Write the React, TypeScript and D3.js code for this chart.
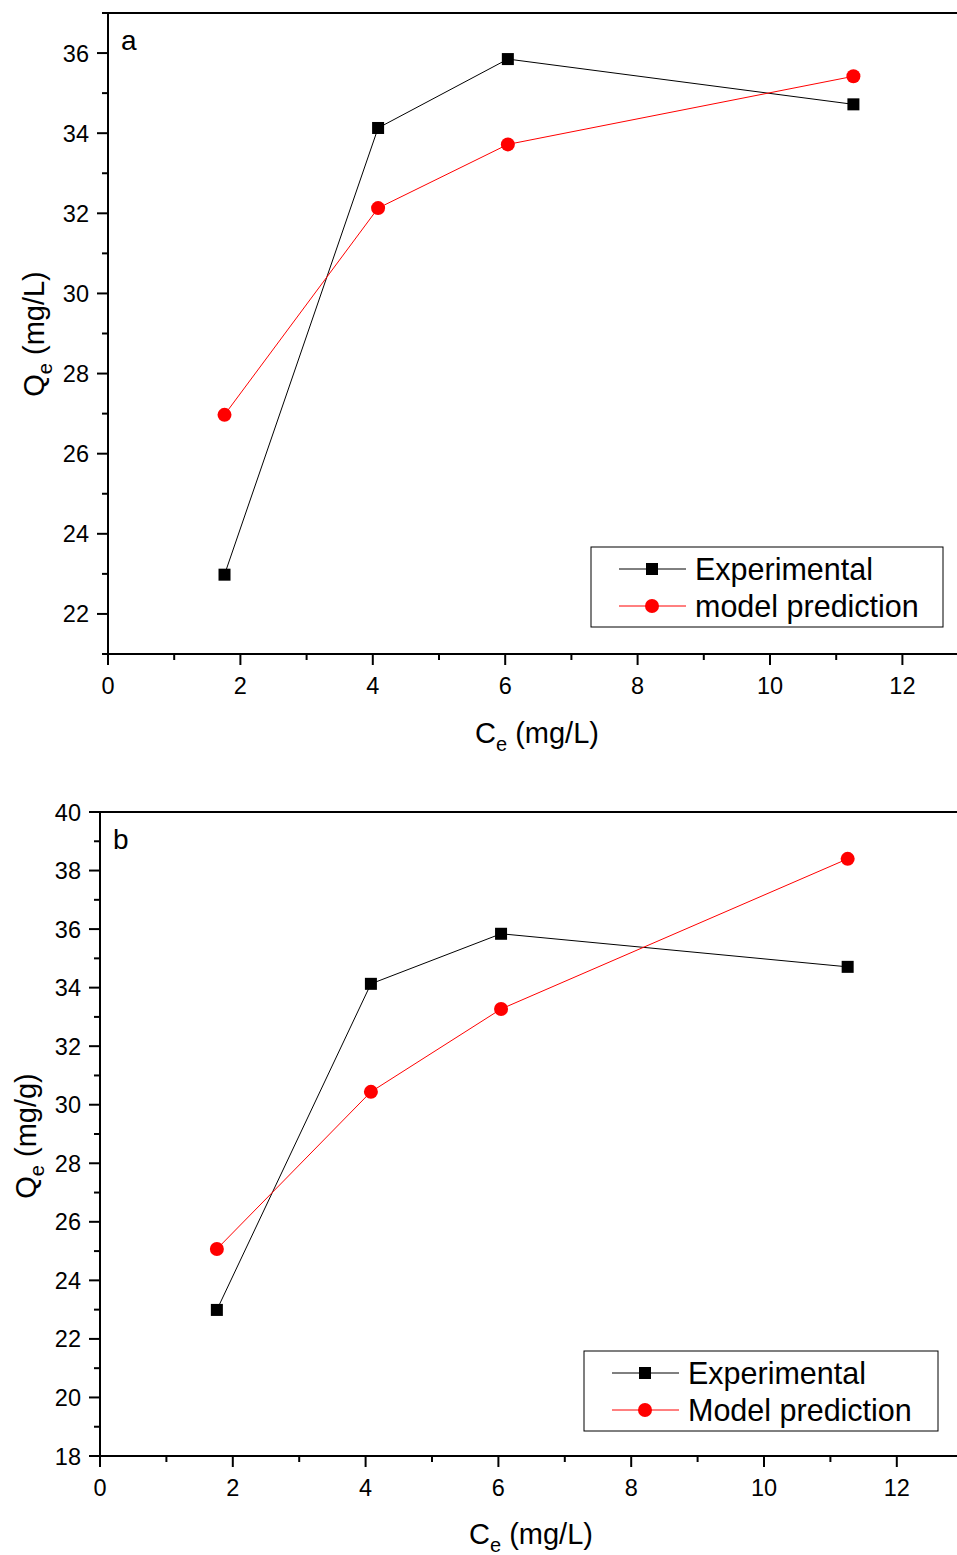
import React, { useEffect, useRef } from "react";
import * as d3 from "d3";

const ceValues = [1.76, 4.08, 6.04, 11.26];
const expA = [22.98, 34.13, 35.85, 34.72];
const modelA = [26.97, 32.13, 33.72, 35.42];
const expB = [22.99, 34.13, 35.84, 34.71];
const modelB = [25.07, 30.44, 33.27, 38.4];
const xTicks = [0, 2, 4, 6, 8, 10, 12];
const yTicksA = [22, 24, 26, 28, 30, 32, 34, 36];
const yTicksB = [18, 20, 22, 24, 26, 28, 30, 32, 34, 36, 38, 40];
const legendA = ["Experimental", "model prediction"];
const legendB = ["Experimental", "Model prediction"];

const FONT = "'Liberation Sans', Arial, Helvetica, sans-serif";

type PanelCfg = {
  left: number; top: number; bottom: number; right: number;
  xMax: number; yMin: number; yMax: number; yTicks: number[];
  exp: number[]; model: number[]; legend: string[];
  legendBox: [number, number, number, number];
  letter: string; yUnit: string; yTitleX: number; yTitleY: number;
  xTitleX: number; xTitleY: number;
};

function drawPanel(svg: d3.Selection<SVGSVGElement, unknown, null, undefined>, c: PanelCfg) {
  const g = svg.append("g");
  const x = d3.scaleLinear().domain([0, c.xMax]).range([c.left, c.right]);
  const y = d3.scaleLinear().domain([c.yMin, c.yMax]).range([c.bottom, c.top]);

  const xMinor = d3.range(1, Math.floor(c.xMax) + 1, 2);
  const yMinorAll = d3.range(Math.ceil(c.yMin), c.yMax + 0.001, 1).filter((v) => !c.yTicks.includes(v));

  g.selectAll(".xmaj").data(xTicks).enter().append("line")
    .attr("x1", (d) => x(d)).attr("x2", (d) => x(d))
    .attr("y1", c.bottom).attr("y2", c.bottom + 11)
    .attr("stroke", "#000").attr("stroke-width", 2);
  g.selectAll(".xmin").data(xMinor).enter().append("line")
    .attr("x1", (d) => x(d)).attr("x2", (d) => x(d))
    .attr("y1", c.bottom).attr("y2", c.bottom + 6)
    .attr("stroke", "#000").attr("stroke-width", 2);
  g.selectAll(".ymaj").data(c.yTicks).enter().append("line")
    .attr("x1", c.left - 11).attr("x2", c.left)
    .attr("y1", (d) => y(d)).attr("y2", (d) => y(d))
    .attr("stroke", "#000").attr("stroke-width", 2);
  g.selectAll(".ymin").data(yMinorAll).enter().append("line")
    .attr("x1", c.left - 6).attr("x2", c.left)
    .attr("y1", (d) => y(d)).attr("y2", (d) => y(d))
    .attr("stroke", "#000").attr("stroke-width", 2);

  g.append("line").attr("x1", c.left).attr("x2", c.left).attr("y1", c.top - 1).attr("y2", c.bottom + 1)
    .attr("stroke", "#000").attr("stroke-width", 2);
  g.append("line").attr("x1", c.left - 1).attr("x2", 960).attr("y1", c.bottom).attr("y2", c.bottom)
    .attr("stroke", "#000").attr("stroke-width", 2);
  g.append("line").attr("x1", c.left - 1).attr("x2", 960).attr("y1", c.top).attr("y2", c.top)
    .attr("stroke", "#000").attr("stroke-width", 2);

  g.selectAll(".xl").data(xTicks).enter().append("text")
    .attr("x", (d) => x(d)).attr("y", c.bottom + 40)
    .attr("text-anchor", "middle").attr("font-family", FONT).attr("font-size", 23.5)
    .text((d) => String(d));
  g.selectAll(".yl").data(c.yTicks).enter().append("text")
    .attr("x", c.left - 19).attr("y", (d) => y(d) + 8.5)
    .attr("text-anchor", "end").attr("font-family", FONT).attr("font-size", 23.5)
    .text((d) => String(d));

  const xt = g.append("text").attr("x", c.xTitleX).attr("y", c.xTitleY)
    .attr("text-anchor", "middle").attr("font-family", FONT).attr("font-size", 29);
  xt.append("tspan").text("C");
  xt.append("tspan").attr("font-size", 20).attr("dy", 8).text("e");
  xt.append("tspan").attr("dy", -8).text(" (mg/L)");

  const yt = g.append("text").attr("transform", `translate(${c.yTitleX},${c.yTitleY}) rotate(-90)`)
    .attr("text-anchor", "middle").attr("font-family", FONT).attr("font-size", 29);
  yt.append("tspan").text("Q");
  yt.append("tspan").attr("font-size", 20).attr("dy", 8).text("e");
  yt.append("tspan").attr("dy", -8).text(" " + c.yUnit);

  g.append("text").attr("x", c.left + 13).attr("y", c.top + 37)
    .attr("font-family", FONT).attr("font-size", 28).text(c.letter);

  const line = d3.line<number>().x((_, i) => x(ceValues[i])).y((d) => y(d));
  g.append("path").datum(c.exp).attr("d", line).attr("fill", "none").attr("stroke", "#000").attr("stroke-width", 1);
  g.append("path").datum(c.model).attr("d", line).attr("fill", "none").attr("stroke", "#ff0000").attr("stroke-width", 1);

  g.selectAll(".sq").data(c.exp).enter().append("rect")
    .attr("x", (_, i) => x(ceValues[i]) - 6).attr("y", (d) => y(d) - 6)
    .attr("width", 12).attr("height", 12).attr("fill", "#000");
  g.selectAll(".ci").data(c.model).enter().append("circle")
    .attr("cx", (_, i) => x(ceValues[i])).attr("cy", (d) => y(d)).attr("r", 7)
    .attr("fill", "#ff0000");

  const [lx, ly, lw, lh] = c.legendBox;
  g.append("rect").attr("x", lx).attr("y", ly).attr("width", lw).attr("height", lh)
    .attr("fill", "#fff").attr("stroke", "#000").attr("stroke-width", 1);
  [0, 1].forEach((r) => {
    const ry = ly + 22 + r * 37;
    const col = r === 0 ? "#000" : "#ff0000";
    g.append("line").attr("x1", lx + 28).attr("x2", lx + 95).attr("y1", ry).attr("y2", ry)
      .attr("stroke", col).attr("stroke-width", 1);
    if (r === 0) {
      g.append("rect").attr("x", lx + 55).attr("y", ry - 6).attr("width", 12).attr("height", 12).attr("fill", "#000");
    } else {
      g.append("circle").attr("cx", lx + 61).attr("cy", ry).attr("r", 7).attr("fill", "#ff0000");
    }
    g.append("text").attr("x", lx + 104).attr("y", ry + 10.5)
      .attr("font-family", FONT).attr("font-size", 30.5).text(c.legend[r]);
  });
}

export default function App() {
  const ref = useRef<SVGSVGElement | null>(null);
  useEffect(() => {
    if (!ref.current) return;
    const svg = d3.select(ref.current);
    svg.selectAll("*").remove();
    svg.append("rect").attr("width", 957).attr("height", 1555).attr("fill", "#fff");
    drawPanel(svg, {
      left: 108, top: 13, bottom: 654, right: 108 + 66.2 * 13,
      xMax: 13, yMin: 21, yMax: 37, yTicks: yTicksA,
      exp: expA, model: modelA, legend: legendA,
      legendBox: [591, 547, 352, 80], letter: "a", yUnit: "(mg/L)",
      yTitleX: 44, yTitleY: 334, xTitleX: 537, xTitleY: 743,
    });
    drawPanel(svg, {
      left: 100, top: 812, bottom: 1456, right: 100 + 66.4 * 13,
      xMax: 13, yMin: 18, yMax: 40, yTicks: yTicksB,
      exp: expB, model: modelB, legend: legendB,
      legendBox: [584, 1351, 354, 80], letter: "b", yUnit: "(mg/g)",
      yTitleX: 36, yTitleY: 1136, xTitleX: 531, xTitleY: 1544,
    });
  }, []);
  return (
    <div style={{ position: "absolute", left: 0, top: 0 }}>
      <svg ref={ref} width={957} height={1555} style={{ display: "block" }} />
    </div>
  );
}
